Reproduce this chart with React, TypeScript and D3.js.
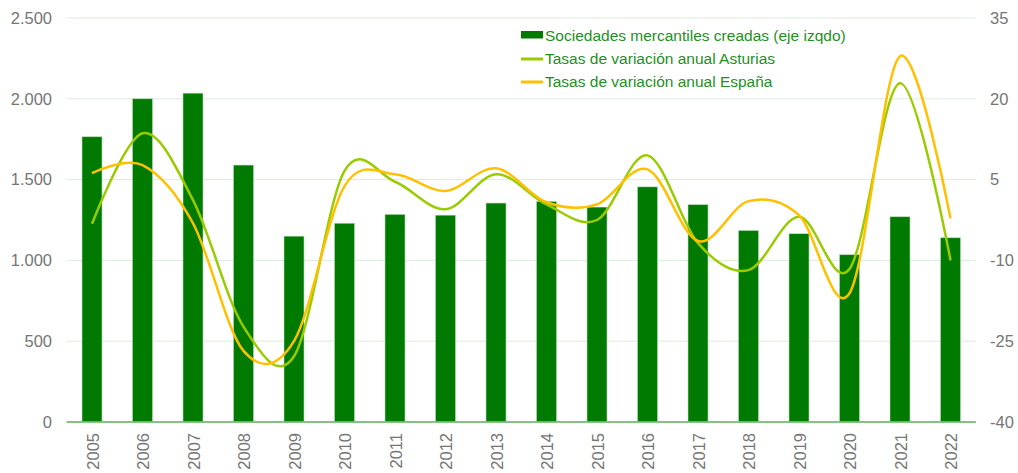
import React from "react";
import * as d3 from "d3";

const years = ["2005","2006","2007","2008","2009","2010","2011","2012","2013","2014","2015","2016","2017","2018","2019","2020","2021","2022"];
const sociedades = [1765, 2000, 2035, 1590, 1150, 1230, 1285, 1280, 1355, 1365, 1330, 1455, 1345, 1185, 1165, 1035, 1270, 1140];
const asturias = [-3.2, 13.6, 1.2, -22.3, -27.8, 6.6, 4.6, -0.5, 6.0, 0.4, -2.5, 9.5, -6.8, -11.8, -1.9, -11.6, 22.9, -10.0];
const espana = [6.2, 7.7, -3.1, -26.8, -25.0, 3.8, 6.0, 2.9, 7.1, 0.8, 0.4, 6.9, -6.4, 1.0, -1.6, -16.1, 27.9, -2.2];
const leftTicks = [0, 500, 1000, 1500, 2000, 2500];
const rightTicks = [-40, -25, -10, 5, 20, 35];
const legendLabels = [
  "Sociedades mercantiles creadas (eje izqdo)",
  "Tasas de variación anual Asturias",
  "Tasas de variación anual España",
];

const W = 1018, H = 473;
const plotL = 66.75, plotR = 975.75, plotT = 18, plotB = 422;
const FONT = "'Liberation Sans', Arial, sans-serif";

export default function App() {
  const x = d3.scaleBand<string>().domain(years).range([plotL, plotR]).paddingInner(0).paddingOuter(0);
  const yL = d3.scaleLinear().domain([0, 2500]).range([plotB, plotT]);
  const yR = d3.scaleLinear().domain([-40, 35]).range([plotB, plotT]);
  const bw = 20;
  const cx = (y: string) => (x(y) as number) + x.bandwidth() / 2;

  const line = d3.line<number>()
    .x((_, i) => cx(years[i]))
    .y((d) => yR(d))
    .curve(d3.curveCardinal.tension(0));

  const legendX = 521;
  return (
    <svg width={W} height={H} style={{ position: "absolute", left: 0, top: 0, background: "#fff" }} fontFamily={FONT}>
      {leftTicks.map((t) => (
        <line key={"g" + t} x1={plotL} x2={plotR} y1={yL(t)} y2={yL(t)} stroke={t === 0 ? "#7cbf7c" : "#dcebdc"} strokeWidth={t === 0 ? 1.5 : 1} />
      ))}
      {leftTicks.map((t) => (
        <text key={"l" + t} x={52} y={yL(t)} dy="0.35em" textAnchor="end" fontSize={16.5} fill="#767676">
          {d3.format(",")(t).replace(/,/g, ".")}
        </text>
      ))}
      {rightTicks.map((t) => (
        <text key={"r" + t} x={990} y={yR(t)} dy="0.35em" textAnchor="start" fontSize={16.5} fill="#767676">
          {t}
        </text>
      ))}
      {years.map((yr, i) => (
        <rect key={"b" + yr} x={cx(yr) - bw / 2} y={yL(sociedades[i])} width={bw} height={plotB - yL(sociedades[i])}
          fill="#007a00" stroke="#b5dcb5" strokeWidth={0.6} />
      ))}
      <line x1={plotL} x2={plotR} y1={plotB} y2={plotB} stroke="#7cbf7c" strokeWidth={1.5} />
      <path d={line(asturias) || ""} fill="none" stroke="#99cc00" strokeWidth={2.5} />
      <path d={line(espana) || ""} fill="none" stroke="#ffc000" strokeWidth={2.5} />
      {years.map((yr) => (
        <text key={"x" + yr} transform={`translate(${cx(yr) + 1},433) rotate(-90)`} textAnchor="end" dy="0.35em" fontSize={16.5} fill="#767676">
          {yr}
        </text>
      ))}
      <rect x={legendX} y={31} width={22} height={7.5} fill="#007a00" />
      <line x1={legendX} x2={legendX + 22} y1={59} y2={59} stroke="#99cc00" strokeWidth={3} />
      <line x1={legendX} x2={legendX + 22} y1={82} y2={82} stroke="#ffc000" strokeWidth={3} />
      {legendLabels.map((l, i) => (
        <text key={"lg" + i} x={545} y={41 + i * 23} fontSize={15.5} fill="#1f8f1f">{l}</text>
      ))}
    </svg>
  );
}
